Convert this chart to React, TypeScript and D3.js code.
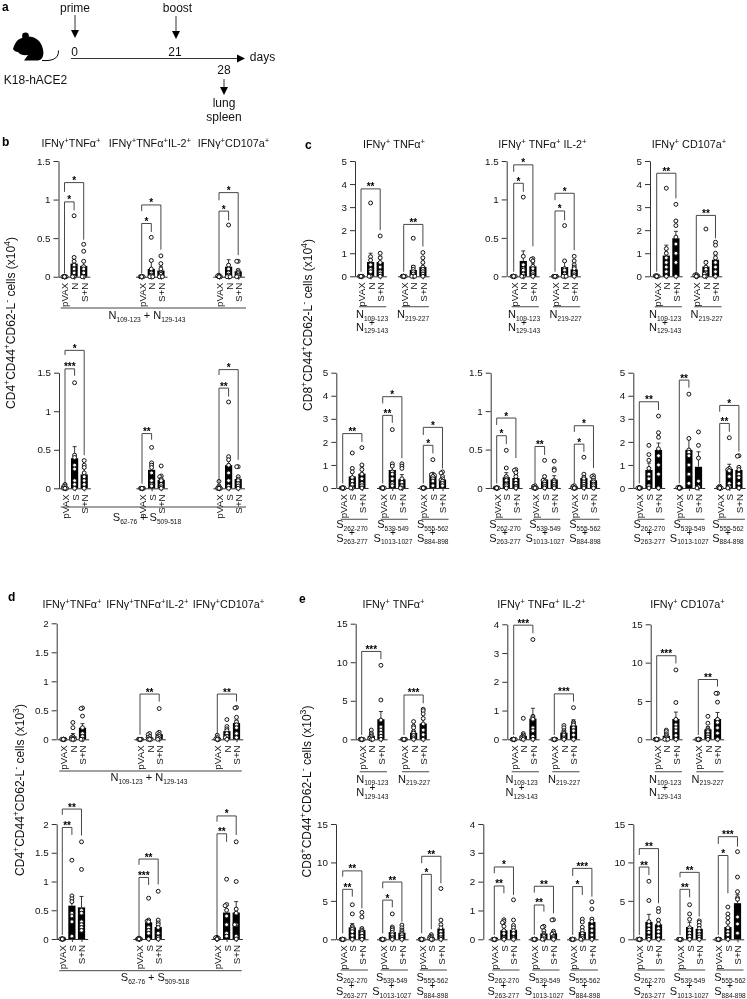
import * as d3 from "d3";
import React, { useEffect, useRef } from "react";

const FONT = "'Liberation Sans', Arial, sans-serif";

const catsN = ["pVAX", "N", "S+N"];
const catsS = ["pVAX", "S", "S+N"];
const ticks15 = [0, 0.5, 1, 1.5];
const ticks2 = [0, 0.5, 1, 1.5, 2];
const ticks5 = [0, 1, 2, 3, 4, 5];
const ticks4 = [0, 1, 2, 3, 4];
const ticks15k = [0, 5, 10, 15];

const zeros = [0, 0, 0, 0, 0, 0, 0, 0];

// every star row: [category index, bracket top, left end, right end, stars]
type Star = [number, number, number, number, string];

// panel b, top
const b1Points = [
  [zeros, [0.79, 0.25, 0.2, 0.15, 0.1, 0.05, 0, 0], [0.42, 0.33, 0.2, 0.13, 0.1, 0.05, 0, 0]],
  [zeros, [0.51, 0.21, 0.1, 0.05, 0.02, 0, 0, 0], [0.27, 0.17, 0.1, 0.05, 0.03, 0, 0, 0]],
  [[0.02, 0.01, 0, 0, 0, 0, 0, 0], [0.67, 0.15, 0.1, 0.05, 0.02, 0, 0, 0], [0.2, 0.2, 0.08, 0.06, 0.04, 0.02, 0, 0]],
];
const b1Means = [[0, 0.17, 0.14], [0, 0.1, 0.08], [0, 0.13, 0.07]];
const b1Errs = [[0, 0.09, 0.06], [0, 0.1, 0.05], [0, 0.09, 0.03]];
const b1Stars: Star[][] = [
  [[1, 0.97, 0.04, 0.86, "*"], [2, 1.22, 1.1, 0.48, "*"]],
  [[1, 0.69, 0.04, 0.58, "*"], [2, 0.93, 0.85, 0.35, "*"]],
  [[1, 0.85, 0.04, 0.73, "*"], [2, 1.09, 0.99, 0.28, "*"]],
];

// panel b, bottom
const b2Points = [
  [[0.05, 0.03, 0.02, 0, 0, 0, 0, 0], [1.37, 0.43, 0.4, 0.3, 0.25, 0.1, 0.05, 0], [0.36, 0.3, 0.27, 0.2, 0.15, 0.1, 0.05, 0]],
  [zeros, [0.53, 0.33, 0.3, 0.27, 0.2, 0.1, 0.05, 0.03], [0.29, 0.16, 0.15, 0.12, 0.1, 0.05, 0.02, 0]],
  [[0.09, 0.03, 0.01, 0, 0, 0, 0, 0], [1.12, 0.41, 0.37, 0.3, 0.2, 0.1, 0.03, 0], [0.28, 0.28, 0.15, 0.12, 0.1, 0.06, 0.03, 0]],
];
const b2Means = [[0, 0.39, 0.18], [0, 0.24, 0.11], [0, 0.3, 0.12]];
const b2Errs = [[0, 0.15, 0.08], [0, 0.06, 0.04], [0, 0.08, 0.03]];
const b2Stars: Star[][] = [
  [[1, 1.55, 0.06, 1.46, "***"], [2, 1.79, 1.73, 0.43, "*"]],
  [[1, 0.71, 0.06, 0.63, "**"]],
  [[1, 1.3, 0.06, 1.19, "**"], [2, 1.54, 1.47, 0.37, "*"]],
];

// panel c, top
const c1aPoints = [
  [zeros, [3.18, 0.85, 0.7, 0.5, 0.3, 0.2, 0, 0], [1.75, 1, 0.8, 0.6, 0.4, 0.2, 0.1, 0]],
  [zeros, [1.65, 0.4, 0.3, 0.2, 0.1, 0, 0, 0], [1.03, 0.8, 0.6, 0.4, 0.3, 0.2, 0.1, 0]],
];
const c1aMeans = [[0, 0.62, 0.62], [0, 0.27, 0.4]];
const c1aErrs = [[0, 0.38, 0.25], [0, 0.2, 0.15]];
const c1aStars: Star[][] = [[[2, 3.79, 0.2, 2, "**"]], [[2, 2.25, 0.2, 1.29, "**"]]];

const c1bPoints = [
  [zeros, [1.03, 0.26, 0.15, 0.1, 0.08, 0.03, 0, 0], [0.23, 0.22, 0.2, 0.13, 0.1, 0.05, 0.02, 0]],
  [zeros, [0.66, 0.2, 0.1, 0.08, 0.03, 0, 0, 0], [0.26, 0.2, 0.15, 0.12, 0.1, 0.05, 0.02, 0]],
];
const c1bMeans = [[0, 0.2, 0.13], [0, 0.12, 0.09]];
const c1bErrs = [[0, 0.13, 0.04], [0, 0.08, 0.03]];
const c1bStars: Star[][] = [
  [[1, 1.21, 0.06, 1.1, "*"], [2, 1.45, 1.36, 0.39, "*"]],
  [[1, 0.85, 0.06, 0.73, "*"], [2, 1.08, 0.99, 0.34, "*"]],
];

const c1cPoints = [
  [[0.03, 0.02, 0, 0, 0, 0, 0, 0], [3.82, 1.2, 1, 0.8, 0.6, 0.4, 0.2, 0], [3.12, 2.4, 2.2, 1.7, 1.4, 1, 0.6, 0]],
  [[0.08, 0.05, 0.02, 0, 0, 0, 0, 0], [2.05, 0.6, 0.4, 0.3, 0.15, 0.1, 0, 0], [1.48, 1.35, 1, 0.8, 0.6, 0.4, 0.2, 0]],
];
const c1cMeans = [[0, 0.9, 1.65], [0, 0.42, 0.72]];
const c1cErrs = [[0, 0.45, 0.3], [0, 0.25, 0.2]];
const c1cStars: Star[][] = [[[2, 4.47, 0.2, 3.38, "**"]], [[2, 2.64, 0.2, 1.65, "**"]]];

// panel c, bottom
const c2aPoints = [
  [zeros, [1.52, 0.85, 0.7, 0.45, 0.3, 0.15, 0, 0], [1.75, 1, 0.8, 0.6, 0.4, 0.2, 0.1, 0]],
  [zeros, [2.53, 1.05, 0.95, 0.7, 0.6, 0.4, 0.2, 0.1], [1.05, 0.95, 0.85, 0.4, 0.25, 0.1, 0, 0]],
  [zeros, [1.23, 0.6, 0.58, 0.55, 0.5, 0.4, 0.3, 0.1], [0.7, 0.65, 0.5, 0.4, 0.35, 0.3, 0.2, 0.1]],
];
const c2aMeans = [[0, 0.5, 0.62], [0, 0.78, 0.38], [0, 0.55, 0.37]];
const c2aErrs = [[0, 0.35, 0.3], [0, 0.25, 0.2], [0, 0.07, 0.1]];
const c2aStars: Star[][] = [
  [[2, 2.36, 0.2, 2, "**"]],
  [[1, 3.15, 0.2, 2.83, "**"], [2, 3.96, 3.67, 1.29, "*"]],
  [[1, 1.85, 0.2, 1.5, "*"], [2, 2.63, 2.3, 0.85, "*"]],
];

const c2bPoints = [
  [zeros, [0.49, 0.26, 0.15, 0.12, 0.1, 0.05, 0.03, 0], [0.24, 0.23, 0.2, 0.15, 0.1, 0.06, 0.02, 0]],
  [[0.03, 0.02, 0, 0, 0, 0, 0, 0], [0.36, 0.15, 0.1, 0.1, 0.08, 0.05, 0.02, 0], [0.35, 0.25, 0.23, 0.1, 0.08, 0.05, 0.02, 0]],
  [[0.03, 0.02, 0, 0, 0, 0, 0, 0], [0.4, 0.18, 0.14, 0.12, 0.08, 0.05, 0.02, 0], [0.16, 0.15, 0.13, 0.1, 0.08, 0.05, 0.03, 0]],
];
const c2bMeans = [[0, 0.14, 0.13], [0, 0.11, 0.11], [0, 0.13, 0.1]];
const c2bErrs = [[0, 0.06, 0.04], [0, 0.05, 0.05], [0, 0.05, 0.03]];
const c2bStars: Star[][] = [
  [[1, 0.68, 0.06, 0.57, "*"], [2, 0.91, 0.82, 0.39, "*"]],
  [[1, 0.54, 0.06, 0.43, "**"]],
  [[1, 0.57, 0.06, 0.47, "*"], [2, 0.81, 0.73, 0.26, "*"]],
];

const c2cPoints = [
  [[0.02, 0, 0, 0, 0, 0, 0, 0], [1.85, 1.45, 1.2, 0.85, 0.6, 0.4, 0.1, 0], [3.12, 2.4, 2.2, 1.7, 1.4, 1, 0.6, 0]],
  [[0.04, 0.02, 0, 0, 0, 0, 0, 0], [4.07, 2.15, 1.65, 1.55, 1.4, 1, 0.6, 0.2], [2.43, 1.85, 1.3, 0.3, 0.05, 0]],
  [[0.08, 0.02, 0, 0, 0, 0, 0, 0], [2.18, 0.85, 0.8, 0.75, 0.5, 0.2, 0.05, 0], [1.4, 1.38, 0.9, 0.8, 0.6, 0.45, 0.2, 0]],
];
const c2cMeans = [[0, 0.78, 1.65], [0, 1.65, 0.92], [0, 0.83, 0.78]];
const c2cErrs = [[0, 0.3, 0.3], [0, 0.5, 0.65], [0, 0.2, 0.15]];
const c2cStars: Star[][] = [
  [[2, 3.74, 0.2, 3.38, "**"]],
  [[1, 4.68, 0.2, 4.35, "**"]],
  [[1, 2.8, 0.2, 2.44, "**"], [2, 3.58, 3.31, 1.58, "*"]],
];

// panel d, top
const d1Points = [
  [zeros, [0.29, 0.2, 0.05, 0.03, 0.02, 0, 0, 0], [0.54, 0.53, 0.4, 0.2, 0.1, 0.05, 0, 0]],
  [zeros, [0.1, 0.08, 0.05, 0.03, 0.01, 0, 0, 0], [0.53, 0.12, 0.1, 0.08, 0.05, 0.03, 0.01, 0]],
  [[0.07, 0.03, 0.01, 0, 0, 0, 0, 0], [0.34, 0.22, 0.18, 0.15, 0.1, 0.05, 0.03, 0], [0.55, 0.54, 0.38, 0.3, 0.25, 0.2, 0.1, 0.03]],
];
const d1Means = [[0, 0.05, 0.2], [0, 0.03, 0.09], [0, 0.14, 0.28]];
const d1Errs = [[0, 0.05, 0.07], [0, 0.02, 0.05], [0, 0.03, 0.05]];
const d1Stars: Star[][] = [
  [],
  [[2, 0.78, 0.08, 0.65, "**"]],
  [[2, 0.78, 0.08, 0.65, "**"]],
];

// panel d, bottom
const d2Points = [
  [zeros, [1.37, 0.75, 0.7, 0.65, 0.45, 0.4, 0.3, 0.05], [1.69, 1.21, 0.5, 0.45, 0.3, 0.25, 0.2, 0.15]],
  [[0.02, 0, 0, 0, 0, 0, 0, 0], [0.71, 0.33, 0.31, 0.3, 0.2, 0.15, 0.1, 0], [0.83, 0.33, 0.28, 0.25, 0.2, 0.1, 0.03, 0]],
  [[0.03, 0.02, 0.01, 0, 0, 0, 0, 0], [1.04, 0.6, 0.58, 0.5, 0.4, 0.25, 0.1, 0.05], [1.69, 1, 0.52, 0.45, 0.25, 0.25, 0.05, 0]],
];
const d2Means = [[0, 0.58, 0.55], [0, 0.29, 0.21], [0, 0.46, 0.46]];
const d2Errs = [[0, 0.12, 0.19], [0, 0.04, 0.09], [0, 0.12, 0.19]];
const d2Stars: Star[][] = [
  [[1, 1.94, 0.07, 1.81, "**"], [2, 2.26, 2.16, 1.8, "**"]],
  [[1, 1.07, 0.07, 0.94, "***"], [2, 1.39, 1.29, 0.95, "**"]],
  [[1, 1.83, 0.07, 1.69, "**"], [2, 2.14, 2.04, 1.81, "*"]],
];

// panel e, top
const e1aPoints = [
  [zeros, [1.2, 0.8, 0.6, 0.4, 0.2, 0.1, 0, 0], [9.6, 5.1, 2.5, 1.6, 1.2, 0.8, 0.4, 0]],
  [zeros, [2.3, 1.7, 1.5, 1, 0.8, 0.5, 0.2, 0], [3.9, 3.7, 3.3, 2.7, 2, 1.2, 0.6, 0]],
];
const e1aMeans = [[0, 0.45, 2.6], [0, 0.85, 2.05]];
const e1aErrs = [[0, 0.2, 1], [0, 0.3, 0.5]];
const e1aStars: Star[][] = [[[2, 11.4, 0.56, 10.4, "***"]], [[2, 5.75, 0.56, 4.67, "***"]]];

const e1bPoints = [
  [zeros, [0.73, 0.2, 0.15, 0.1, 0.08, 0.05, 0.02, 0], [3.47, 0.8, 0.75, 0.7, 0.4, 0.3, 0.1, 0]],
  [zeros, [0.48, 0.4, 0.3, 0.25, 0.2, 0.15, 0.05, 0], [1.1, 0.6, 0.55, 0.5, 0.4, 0.3, 0.15, 0]],
];
const e1bMeans = [[0, 0.12, 0.72], [0, 0.23, 0.48]];
const e1bErrs = [[0, 0.05, 0.36], [0, 0.05, 0.2]];
const e1bStars: Star[][] = [[[2, 3.97, 0.15, 3.69, "***"]], [[2, 1.58, 0.15, 1.31, "***"]]];

const e1cPoints = [
  [zeros, [1.2, 1, 0.7, 0.5, 0.3, 0.1, 0, 0], [9.05, 4.8, 2.6, 1.9, 1.5, 1.1, 0.5, 0]],
  [zeros, [3, 2.1, 1.4, 1.2, 1, 0.6, 0.3, 0], [6, 6, 4.85, 2.6, 2.2, 1.5, 0.8, 0]],
];
const e1cMeans = [[0, 0.45, 2.65], [0, 1.3, 2.65]];
const e1cErrs = [[0, 0.2, 0.9], [0, 0.35, 0.85]];
const e1cStars: Star[][] = [[[2, 10.9, 0.56, 9.9, "***"]], [[2, 7.8, 0.56, 6.87, "**"]]];

// panel e, bottom
const e2aPoints = [
  [zeros, [4.5, 3.3, 1.7, 1.5, 1.3, 1, 0.5, 0], [3.5, 2.9, 1.4, 1.2, 1, 0.8, 0.4, 0]],
  [zeros, [3.3, 1.6, 1.4, 1.2, 0.9, 0.6, 0.2, 0], [1.85, 1.5, 1.2, 1, 0.8, 0.6, 0.3, 0]],
  [zeros, [0.6, 0.4, 0.3, 0.2, 0.1, 0, 0, 0], [6.6, 2.5, 1.9, 1.5, 1, 0.6, 0.2, 0]],
];
const e2aMeans = [[0, 1.55, 1.2], [0, 0.95, 0.85], [0, 0.2, 1.4]];
const e2aErrs = [[0, 0.5, 0.35], [0, 0.35, 0.2], [0, 0.1, 0.7]];
const e2aStars: Star[][] = [
  [[1, 6.5, 0.78, 5.55, "**"], [2, 8.9, 8.15, 4.03, "**"]],
  [[1, 5.1, 0.78, 4.16, "*"], [2, 7.45, 6.63, 2.3, "**"]],
  [[1, 8.45, 0.78, 1.3, "*"], [2, 10.8, 9.9, 7.28, "**"]],
];

const e2bPoints = [
  [zeros, [0.68, 0.62, 0.58, 0.45, 0.3, 0.2, 0.05, 0], [1.37, 0.67, 0.48, 0.4, 0.3, 0.2, 0.05, 0]],
  [zeros, [0.45, 0.42, 0.3, 0.2, 0.15, 0.1, 0.02, 0], [0.68, 0.67, 0.28, 0.22, 0.18, 0.1, 0.05, 0]],
  [zeros, [0.7, 0.6, 0.42, 0.3, 0.2, 0.1, 0.03, 0], [1.3, 1.05, 0.7, 0.62, 0.45, 0.3, 0.15, 0]],
];
const e2bMeans = [[0, 0.31, 0.33], [0, 0.2, 0.21], [0, 0.25, 0.6]];
const e2bErrs = [[0, 0.25, 0.13], [0, 0.07, 0.07], [0, 0.08, 0.13]];
const e2bStars: Star[][] = [
  [[1, 1.85, 0.15, 1.6, "**"], [2, 2.51, 2.29, 1.54, "*"]],
  [[1, 1.19, 0.15, 0.96, "**"], [2, 1.84, 1.62, 0.9, "**"]],
  [[1, 1.83, 0.15, 1.54, "*"], [2, 2.46, 2.2, 1.48, "***"]],
];

const e2cPoints = [
  [zeros, [7.55, 5.05, 2.3, 1.8, 1.3, 0.9, 0.3, 0], [4, 3.6, 2.5, 2, 1.4, 1, 0.5, 0]],
  [zeros, [4.5, 3.3, 2.6, 1.5, 1.2, 0.8, 0.4, 0], [2.4, 2.2, 1.8, 1.4, 1, 0.6, 0.3, 0]],
  [zeros, [4.2, 3.3, 2.8, 2.2, 1.5, 1, 0.6, 0], [11.4, 8.1, 6.2, 5.4, 5.2, 2.9, 2, 0.8]],
];
const e2cMeans = [[0, 2.25, 1.95], [0, 1.6, 1.35], [0, 1.6, 4.7]];
const e2cErrs = [[0, 1, 0.45], [0, 0.6, 0.3], [0, 0.45, 1.1]];
const e2cStars: Star[][] = [
  [[1, 9.4, 0.56, 8.36, "**"], [2, 11.8, 10.97, 4.68, "**"]],
  [[1, 6.5, 0.56, 5.46, "**"], [2, 8.71, 8.06, 2.95, "**"]],
  [[1, 10.9, 0.56, 5.98, "*"], [2, 13.35, 12.4, 12.05, "***"]],
];

const nPair = [["N_{109-123}", "N_{129-143}"], ["N_{219-227}"]];
const sTriple = [
  ["S_{262-270}", "S_{263-277}"],
  ["S_{539-549}", "S_{1013-1027}"],
  ["S_{555-562}", "S_{884-898}"],
];
const nWide = [["N_{109-123} + N_{129-143}"]];
const sWide = [["S_{62-76} + S_{509-518}"]];

const titles = [
  { text: "IFNγ^{+}TNFα^{+}", x: 71, y: 147 },
  { text: "IFNγ^{+}TNFα^{+}IL-2^{+}", x: 150, y: 147 },
  { text: "IFNγ^{+}CD107a^{+}", x: 233.5, y: 147 },
  { text: "IFNγ^{+} TNFα^{+}", x: 394, y: 148 },
  { text: "IFNγ^{+} TNFα^{+} IL-2^{+}", x: 542.5, y: 148 },
  { text: "IFNγ^{+} CD107a^{+}", x: 689, y: 148 },
  { text: "IFNγ^{+}TNFα^{+}", x: 72, y: 608 },
  { text: "IFNγ^{+}TNFα^{+}IL-2^{+}", x: 147.5, y: 608 },
  { text: "IFNγ^{+}CD107a^{+}", x: 228.5, y: 608 },
  { text: "IFNγ^{+} TNFα^{+}", x: 393.5, y: 608 },
  { text: "IFNγ^{+} TNFα^{+} IL-2^{+}", x: 541.5, y: 608 },
  { text: "IFNγ^{+} CD107a^{+}", x: 687.5, y: 608 },
];

const yTitles = [
  { text: "CD4^{+}CD44^{+}CD62-L^{-} cells (x10^{4})", x: 15, y: 323 },
  { text: "CD8^{+}CD44^{+}CD62-L^{-} cells (x10^{4})", x: 312, y: 325 },
  { text: "CD4^{+}CD44^{+}CD62-L^{-} cells (x10^{3})", x: 24, y: 790 },
  { text: "CD8^{+}CD44^{+}CD62-L^{-} cells (x10^{3})", x: 311, y: 791.5 },
];

const panelLetters = [
  { text: "a", x: 2, y: 11 },
  { text: "b", x: 2, y: 146 },
  { text: "c", x: 305, y: 149 },
  { text: "d", x: 8, y: 601 },
  { text: "e", x: 299, y: 603 },
];

const timelineDays = [0, 21, 28];
const timelineX = d3.scaleOrdinal<number, number>().domain(timelineDays).range([75, 176, 224]);

// one entry per y axis
const charts = [
  { cats: catsN, points: b1Points, means: b1Means, errs: b1Errs, stars: b1Stars, ticks: ticks15, x: 58.5, y0: 276.7, yTop: 161, groups: [64.5, 141.7, 219], labels: nWide, centers: [147], lineY: 308, labelY: 319, rowGap: 0, span: [60.7, 246] },
  { cats: catsS, points: b2Points, means: b2Means, errs: b2Errs, stars: b2Stars, ticks: ticks15, x: 59, y0: 488.3, yTop: 372.7, groups: [65, 142, 219], labels: sWide, centers: [147], lineY: 507, labelY: 521, rowGap: 0, span: [60.7, 246] },
  { cats: catsN, points: c1aPoints, means: c1aMeans, errs: c1aErrs, stars: c1aStars, ticks: ticks5, x: 355, y0: 276.3, yTop: 161, groups: [361, 403.7], labels: nPair, centers: [372, 413], lineY: 306.7, labelY: 318, rowGap: 12.7 },
  { cats: catsN, points: c1bPoints, means: c1bMeans, errs: c1bErrs, stars: c1bStars, ticks: ticks15, x: 506.7, y0: 276.3, yTop: 161, groups: [513.7, 555], labels: nPair, centers: [524, 565.7], lineY: 306.7, labelY: 318, rowGap: 12.7 },
  { cats: catsN, points: c1cPoints, means: c1cMeans, errs: c1cErrs, stars: c1cStars, ticks: ticks5, x: 650, y0: 276.3, yTop: 161, groups: [656.7, 696.3], labels: nPair, centers: [665, 706.7], lineY: 306.7, labelY: 318, rowGap: 12.7 },
  { cats: catsS, points: c2aPoints, means: c2aMeans, errs: c2aErrs, stars: c2aStars, ticks: ticks5, x: 336.3, y0: 488, yTop: 372.7, groups: [342.7, 382.7, 423.3], labels: sTriple, centers: [352, 393, 432.7], lineY: 519.3, labelY: 528, rowGap: 13.7 },
  { cats: catsS, points: c2bPoints, means: c2bMeans, errs: c2bErrs, stars: c2bStars, ticks: ticks15, x: 490.7, y0: 488, yTop: 372.7, groups: [496.7, 535, 574.3], labels: sTriple, centers: [505, 545, 585], lineY: 519.3, labelY: 528, rowGap: 13.7 },
  { cats: catsS, points: c2cPoints, means: c2cMeans, errs: c2cErrs, stars: c2cStars, ticks: ticks5, x: 633.3, y0: 488, yTop: 372.7, groups: [639.3, 679.3, 719.7], labels: sTriple, centers: [649.3, 689.3, 728], lineY: 519.3, labelY: 528, rowGap: 13.7 },
  { cats: catsN, points: d1Points, means: d1Means, errs: d1Errs, stars: d1Stars, ticks: ticks2, x: 56.7, y0: 739.3, yTop: 623.3, groups: [63.3, 140, 217.3], labels: nWide, centers: [149], lineY: 771, labelY: 781, rowGap: 0, span: [59.3, 241.7] },
  { cats: catsS, points: d2Points, means: d2Means, errs: d2Errs, stars: d2Stars, ticks: ticks2, x: 56.7, y0: 939, yTop: 824, groups: [62.3, 139, 217], labels: sWide, centers: [155], lineY: 970.7, labelY: 981, rowGap: 0, span: [59.3, 241.7] },
  { cats: catsN, points: e1aPoints, means: e1aMeans, errs: e1aErrs, stars: e1aStars, ticks: ticks15k, x: 355.7, y0: 739.3, yTop: 623.7, groups: [361.7, 404], labels: nPair, centers: [372.3, 414], lineY: 771.7, labelY: 782.7, rowGap: 13.3 },
  { cats: catsN, points: e1bPoints, means: e1bMeans, errs: e1bErrs, stars: e1bStars, ticks: ticks4, x: 507.3, y0: 739.3, yTop: 624.3, groups: [513.7, 554.3], labels: nPair, centers: [521.7, 564], lineY: 771.7, labelY: 782.7, rowGap: 13.3 },
  { cats: catsN, points: e1cPoints, means: e1cMeans, errs: e1cErrs, stars: e1cStars, ticks: ticks15k, x: 650.7, y0: 739.3, yTop: 624.3, groups: [656.7, 698.3], labels: nPair, centers: [665, 707.7], lineY: 771.7, labelY: 782.7, rowGap: 13.3 },
  { cats: catsS, points: e2aPoints, means: e2aMeans, errs: e2aErrs, stars: e2aStars, ticks: ticks15k, x: 336, y0: 939.3, yTop: 824, groups: [342.7, 382.7, 421.7], labels: sTriple, centers: [351.7, 391.7, 432.3], lineY: 970, labelY: 980.7, rowGap: 14.3 },
  { cats: catsS, points: e2bPoints, means: e2bMeans, errs: e2bErrs, stars: e2bStars, ticks: ticks4, x: 483.3, y0: 939.3, yTop: 824, groups: [494.3, 534.3, 572.7], labels: sTriple, centers: [503.3, 544.3, 584.3], lineY: 970, labelY: 980.7, rowGap: 14.3 },
  { cats: catsS, points: e2cPoints, means: e2cMeans, errs: e2cErrs, stars: e2cStars, ticks: ticks15k, x: 633.3, y0: 939.3, yTop: 824, groups: [639.3, 680, 718.3], labels: sTriple, centers: [649.3, 689.3, 730], lineY: 970, labelY: 980.7, rowGap: 14.3 },
];

const STEP = 9.6;
const INK = "#111";

// "x^{+}" and "x_{12}" become tspans, so it all stays real text
function richText(sel: any, str: string, size: number) {
  const re = /\^\{(.*?)\}|_\{(.*?)\}|[^^_]+/g;
  let shift = 0;
  for (const m of str.matchAll(re)) {
    const isSup = m[1] !== undefined;
    const isSub = m[2] !== undefined;
    const want = isSup ? -size * 0.38 : isSub ? size * 0.25 : 0;
    sel.append("tspan")
      .attr("dy", want - shift)
      .attr("font-size", isSup ? size * 0.72 : isSub ? size * 0.6 : size)
      .text(isSup ? m[1] : isSub ? m[2] : m[0]);
    shift = want;
  }
}

// spreads equal values sideways the way the prism dots sit
function dodge(values: number[], y: any) {
  const placed: { v: number; dx: number }[] = [];
  const offsets = [0, -1.5, 1.5];
  for (const v of values) {
    const dx = offsets.find(o => placed.every(p => Math.hypot(y(p.v) - y(v), p.dx - o) > 1.4));
    placed.push({ v, dx: dx === undefined ? 0 : dx });
  }
  return placed;
}

function drawChart(svg: any, c: any) {
  const y = d3.scaleLinear().domain([0, c.ticks[c.ticks.length - 1]]).range([c.y0, c.yTop]);

  const yAxis = svg.append("g")
    .attr("transform", `translate(${c.x},0)`)
    .call(d3.axisLeft(y).tickValues(c.ticks).tickSize(5).tickPadding(3).tickSizeOuter(0).tickFormat((d: any) => String(d)));
  yAxis.selectAll("path,line").attr("stroke", "#333");
  yAxis.selectAll("text").attr("font-family", FONT).attr("font-size", 9.8).attr("fill", INK);

  c.groups.forEach((gx: number, g: number) => {
    const x = d3.scalePoint().domain(c.cats).range([gx - 6.2, gx + 2 * STEP + 6.2]).padding(0.646);

    const xAxis = svg.append("g")
      .attr("transform", `translate(0,${c.y0})`)
      .call(d3.axisBottom(x).tickSize(3).tickSizeOuter(0));
    xAxis.selectAll("path,line").attr("stroke", "#333");
    xAxis.selectAll("text")
      .attr("font-family", FONT).attr("font-size", 9.8).attr("fill", INK)
      .attr("transform", "rotate(-90)")
      .attr("text-anchor", "end")
      .attr("x", -6).attr("y", 0).attr("dy", "0.35em");

    c.cats.forEach((cat: string, k: number) => {
      const cx = x(cat) as number;
      const mean = c.means[g][k];
      if (mean > 0) {
        svg.append("rect")
          .attr("x", cx - 3.6).attr("width", 7.2)
          .attr("y", y(mean)).attr("height", y(0) - y(mean))
          .attr("fill", "#000");
        const top = y(mean + c.errs[g][k]);
        svg.append("path")
          .attr("d", `M${cx},${y(mean)}V${top}M${cx - 2},${top}H${cx + 2}`)
          .attr("fill", "none").attr("stroke", "#222").attr("stroke-width", 0.9);
      }
      svg.append("g").selectAll("circle")
        .data(dodge(c.points[g][k], y))
        .join("circle")
        .attr("cx", (d: any) => cx + d.dx)
        .attr("cy", (d: any) => y(d.v))
        .attr("r", 1.95)
        .attr("fill", "#fff")
        .attr("stroke", "#111")
        .attr("stroke-width", 1);
    });

    // significance brackets
    c.stars[g].forEach(([k, top, leftEnd, rightEnd, label]: Star) => {
      const x0 = x(c.cats[0]) as number;
      const x1 = x(c.cats[k]) as number;
      svg.append("path")
        .attr("d", `M${x0},${y(leftEnd)}V${y(top)}H${x1}V${y(rightEnd)}`)
        .attr("fill", "none").attr("stroke", "#333").attr("stroke-width", 0.9);
      svg.append("text")
        .attr("x", (x0 + x1) / 2).attr("y", y(top) + 1.5)
        .attr("text-anchor", "middle")
        .attr("font-family", FONT).attr("font-size", 10).attr("font-weight", "bold")
        .attr("fill", "#000")
        .text(label);
    });

    // line under the group
    if (!c.span) {
      svg.append("line")
        .attr("x1", gx - 2).attr("x2", gx + 2 * STEP + 6)
        .attr("y1", c.lineY).attr("y2", c.lineY)
        .attr("stroke", "#666").attr("stroke-width", 1.2);
    }
  });

  if (c.span) {
    svg.append("line")
      .attr("x1", c.span[0]).attr("x2", c.span[1])
      .attr("y1", c.lineY).attr("y2", c.lineY)
      .attr("stroke", "#444").attr("stroke-width", 1);
  }

  c.labels.forEach((rows: string[], i: number) => {
    rows.forEach((row, r) => {
      const t = svg.append("text")
        .attr("x", c.centers[i]).attr("y", c.labelY + r * c.rowGap)
        .attr("text-anchor", "middle")
        .attr("font-family", FONT).attr("fill", INK);
      richText(t, row, 11);
    });
    if (rows.length > 1) {
      svg.append("text")
        .attr("x", c.centers[i]).attr("y", c.labelY + 8)
        .attr("text-anchor", "middle")
        .attr("font-family", FONT).attr("font-size", 10).attr("fill", INK)
        .text("+");
    }
  });
}

function drawTimeline(svg: any) {
  const arrow = (x: number, y1: number, y2: number) => {
    svg.append("line").attr("x1", x).attr("x2", x).attr("y1", y1).attr("y2", y2 - 6)
      .attr("stroke", "#333").attr("stroke-width", 1);
    svg.append("path").attr("d", `M${x - 4},${y2 - 8}H${x + 4}L${x},${y2}Z`).attr("fill", "#000");
  };
  const label = (text: string, x: number, y: number) => {
    svg.append("text").attr("x", x).attr("y", y).attr("text-anchor", "middle")
      .attr("font-family", FONT).attr("font-size", 12).attr("fill", INK).text(text);
  };

  svg.append("line").attr("x1", 71).attr("x2", 238).attr("y1", 58.5).attr("y2", 58.5)
    .attr("stroke", "#333").attr("stroke-width", 1);
  svg.append("path").attr("d", "M237,54.5L245,58.5L237,62.5Z").attr("fill", "#000");

  const x = timelineX;
  arrow(x(0), 15, 38);
  arrow(x(21), 16, 39);
  arrow(x(28), 79, 95);
  label("prime", 75, 11.5);
  label("boost", 177.5, 11.5);
  label("0", x(0) - 0.5, 56);
  label("21", x(21) - 1, 56);
  label("28", x(28), 73.5);
  label("days", 262.5, 61);
  label("lung", x(28), 107);
  label("spleen", x(28), 120.5);
  label("K18-hACE2", 35.5, 84);

  // mouse silhouette
  const m = svg.append("g").attr("fill", "#000");
  m.append("path").attr("d", "M13,49C15,42 18,39 22,38C28,35 38,36 42,46C45,54 43,60 38,60.5L24,60.5L28,55C24,55.5 20,55 18,52C16,52 14,51 13,49Z");
  m.append("circle").attr("cx", 25.5).attr("cy", 36).attr("r", 3.4);
  m.append("path").attr("d", "M42,60.5C50,61 59,60 58.5,50.5")
    .attr("fill", "none").attr("stroke", "#000").attr("stroke-width", 1);
}

export default function App() {
  const svgRef = useRef<SVGSVGElement | null>(null);

  useEffect(() => {
    const svg = d3.select(svgRef.current);
    svg.selectAll("*").remove();

    drawTimeline(svg);
    charts.forEach(c => drawChart(svg, c));

    titles.forEach(t => {
      const el = svg.append("text").attr("x", t.x).attr("y", t.y)
        .attr("text-anchor", "middle").attr("font-family", FONT).attr("fill", INK);
      richText(el, t.text, 10.8);
    });

    yTitles.forEach(t => {
      const el = svg.append("text")
        .attr("transform", `translate(${t.x},${t.y}) rotate(-90)`)
        .attr("text-anchor", "middle").attr("font-family", FONT).attr("fill", INK);
      richText(el, t.text, 12);
    });

    panelLetters.forEach(t => {
      svg.append("text").attr("x", t.x).attr("y", t.y)
        .attr("font-family", FONT).attr("font-weight", "bold").attr("font-size", 12).attr("fill", "#000")
        .text(t.text);
    });
  }, []);

  return (
    <svg
      ref={svgRef}
      width={747}
      height={999}
      viewBox="0 0 747 999"
      style={{ position: "absolute", left: 0, top: 0, display: "block", filter: "grayscale(1)" }}
    />
  );
}
